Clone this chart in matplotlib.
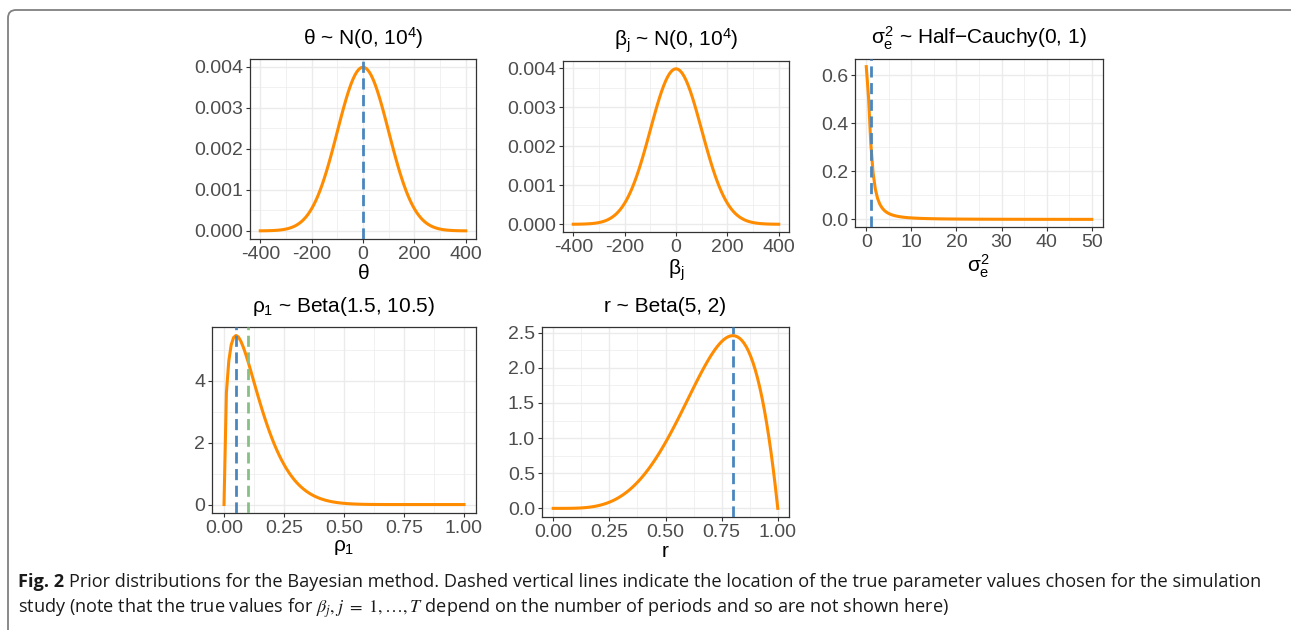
import math

import numpy as np
import matplotlib

matplotlib.use("Agg")
import matplotlib.pyplot as plt
from matplotlib.patches import FancyBboxPatch
from matplotlib.ticker import AutoMinorLocator, FixedLocator, FormatStrFormatter

plt.rcParams["font.family"] = ["Liberation Sans", "DejaVu Sans"]
plt.rcParams["mathtext.fontset"] = "custom"
plt.rcParams["mathtext.rm"] = "Liberation Sans"
plt.rcParams["mathtext.it"] = "Liberation Sans"
plt.rcParams["mathtext.bf"] = "Liberation Sans:bold"
plt.rcParams["axes.unicode_minus"] = True

# prior parameters (as in the panel titles)
theta_mu, theta_var = 0.0, 1e4
beta_mu, beta_var = 0.0, 1e4
sigma_scale = 1.0
rho_a, rho_b = 1.5, 10.5
r_a, r_b = 5.0, 2.0

theta_range = (-400, 400)
beta_range = (-400, 400)
sigma_range = (0, 50)
rho_range = (0, 1)
r_range = (0, 1)

# true values used in the simulation study
theta_true = [0.0]
sigma_true = [1.0]
rho_true = [0.05, 0.10]
r_true = [0.8]

# axis breaks
norm_xticks = [-400, -200, 0, 200, 400]
norm_yticks = [0.000, 0.001, 0.002, 0.003, 0.004]
sigma_xticks = [0, 10, 20, 30, 40, 50]
sigma_yticks = [0.0, 0.2, 0.4, 0.6]
unit_xticks = [0.00, 0.25, 0.50, 0.75, 1.00]
rho_yticks = [0, 2, 4]
r_yticks = [0.0, 0.5, 1.0, 1.5, 2.0, 2.5]

N_GRID = 101
ORANGE = "#FF8C00"
BLUE = "#4A86BE"
GREEN = "#86C086"
GRID = "#EBEBEB"


def normal_pdf(x, mu, var):
    return np.exp(-(x - mu) ** 2 / (2 * var)) / math.sqrt(2 * math.pi * var)


def half_cauchy_pdf(x, s):
    return 2.0 / (math.pi * s * (1 + (x / s) ** 2))


def beta_pdf(x, a, b):
    lbeta = math.lgamma(a) + math.lgamma(b) - math.lgamma(a + b)
    with np.errstate(divide="ignore", invalid="ignore"):
        return x ** (a - 1) * (1 - x) ** (b - 1) / math.exp(lbeta)


def style_axes(ax, xticks, yticks, xfmt, yfmt):
    ax.xaxis.set_major_locator(FixedLocator(xticks))
    ax.yaxis.set_major_locator(FixedLocator(yticks))
    ax.xaxis.set_major_formatter(FormatStrFormatter(xfmt))
    ax.yaxis.set_major_formatter(FormatStrFormatter(yfmt))
    ax.xaxis.set_minor_locator(AutoMinorLocator(2))
    ax.yaxis.set_minor_locator(AutoMinorLocator(2))
    ax.grid(True, which="major", color=GRID, lw=1.0)
    ax.grid(True, which="minor", color=GRID, lw=0.5)
    ax.set_axisbelow(True)
    ax.tick_params(which="major", length=3, width=0.8, color="#333333",
                   labelsize=14, labelcolor="#4D4D4D", pad=2)
    ax.tick_params(which="minor", length=0)
    for sp in ax.spines.values():
        sp.set_color("#333333")
        sp.set_linewidth(0.9)
    ax.margins(x=0.05, y=0.05)


def density_panel(ax, x, y, vlines, vcols, title, xlabel):
    ax.plot(x, y, color=ORANGE, lw=2.2, zorder=3)
    for v, c in zip(vlines, vcols):
        ax.axvline(v, color=c, lw=2.0, ls=(0, (4.0, 2.0)), zorder=4)
    ax.set_title(title, fontsize=15, pad=10.5)
    ax.set_xlabel(xlabel, fontsize=15, labelpad=1)


W, H = 1291, 630
fig = plt.figure(figsize=(W / 100, H / 100), dpi=100)


def px_axes(x0, y0, x1, y1):
    return fig.add_axes([x0 / W, 1 - y1 / H, (x1 - x0) / W, (y1 - y0) / H])


# theta
ax1 = px_axes(250, 59, 476, 239)
x = np.linspace(*theta_range, N_GRID)
density_panel(ax1, x, normal_pdf(x, theta_mu, theta_var), theta_true, [BLUE],
              r"$\theta$ ~ N(0, 10$^4$)", r"$\theta$")
style_axes(ax1, norm_xticks, norm_yticks, "%d", "%.3f")

# beta_j
ax2 = px_axes(563, 61, 789, 232)
x = np.linspace(*beta_range, N_GRID)
density_panel(ax2, x, normal_pdf(x, beta_mu, beta_var), [], [],
              r"$\beta_j$ ~ N(0, 10$^4$)", r"$\beta_j$")
style_axes(ax2, norm_xticks, norm_yticks, "%d", "%.3f")

# sigma_e^2
ax3 = px_axes(855, 59, 1103, 227)
x = np.linspace(*sigma_range, N_GRID)
density_panel(ax3, x, half_cauchy_pdf(x, sigma_scale), sigma_true, [BLUE],
              r"$\sigma_e^2$ ~ Half−Cauchy(0, 1)", r"$\sigma_e^2$")
style_axes(ax3, sigma_xticks, sigma_yticks, "%d", "%.1f")

# rho_1
ax4 = px_axes(212, 327, 476, 513)
x = np.linspace(*rho_range, N_GRID)
density_panel(ax4, x, beta_pdf(x, rho_a, rho_b), rho_true, [BLUE, GREEN],
              r"$\rho_1$ ~ Beta(1.5, 10.5)", r"$\rho_1$")
style_axes(ax4, unit_xticks, rho_yticks, "%.2f", "%d")

# r
ax5 = px_axes(542, 327, 789, 517)
x = np.linspace(*r_range, N_GRID)
density_panel(ax5, x, beta_pdf(x, r_a, r_b), r_true, [BLUE],
              "r ~ Beta(5, 2)", "r")
style_axes(ax5, unit_xticks, r_yticks, "%.2f", "%.1f")

# outer frame, rounded at the top-left corner and running off the page
frame = FancyBboxPatch((0.08, -1.0), 14.0, (H - 10) / 100 + 1.0,
                       boxstyle="round,pad=0,rounding_size=0.08",
                       transform=fig.dpi_scale_trans, fill=False,
                       edgecolor="#808080", lw=1.3, clip_on=False)
fig.patches.append(frame)

# caption
cap_font = ["Open Sans", "DejaVu Sans"]
cap_size = 13.1
y1 = 1 - 587 / H
y2 = 1 - 613 / H
lab = fig.text(18 / W, y1, "Fig. 2", family=cap_font, fontsize=cap_size,
               fontweight="bold", va="baseline", color="#1A1A1A")
fig.canvas.draw()
bb = lab.get_window_extent(fig.canvas.get_renderer())
fig.text(bb.x1 / W + 5 / W, y1,
         "Prior distributions for the Bayesian method. Dashed vertical lines "
         "indicate the location of the true parameter values chosen for the simulation",
         family=cap_font, fontsize=cap_size, va="baseline", color="#1A1A1A")
fig.text(18 / W, y2,
         r"study (note that the true values for $\beta_j, j\ =\ 1, \ldots, T$ depend on "
         "the number of periods and so are not shown here)",
         family=cap_font, fontsize=cap_size, va="baseline", color="#1A1A1A",
         math_fontfamily="stix")

fig.savefig("out.png", dpi=100)
